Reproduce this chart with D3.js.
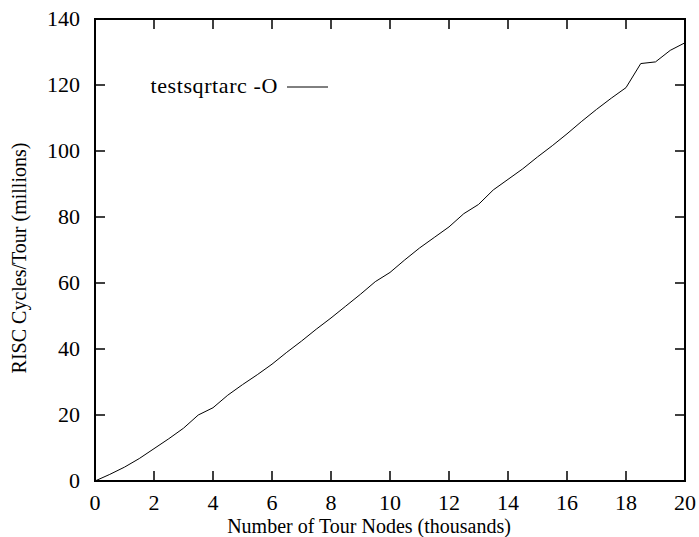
<!DOCTYPE html>
<html>
<head>
<meta charset="utf-8">
<script src="https://cdn.jsdelivr.net/npm/d3@7"></script>
<style>
  body { margin: 0; background: #fff; }
  text { font-family: "Liberation Serif", "Times New Roman", serif; fill: #000; }
</style>
</head>
<body>
<div id="chart"></div>
<script>
// tour nodes (thousands)
var nodes = [0, 0.5, 1, 1.5, 2, 2.5, 3, 3.5, 4, 4.5, 5, 5.5, 6, 6.5, 7, 7.5, 8, 8.5, 9, 9.5,
             10, 10.5, 11, 11.5, 12, 12.5, 13, 13.5, 14, 14.5, 15, 15.5, 16, 16.5, 17, 17.5, 18, 18.5, 19, 19.5, 20];
// RISC cycles per tour (millions)
var cycles = [0, 2, 4.2, 6.8, 9.8, 12.8, 16, 20, 22.2, 26, 29.2, 32.2, 35.4, 39, 42.4, 46, 49.4, 53, 56.6, 60.4,
              63.2, 67, 70.6, 73.8, 77, 81, 83.8, 88.2, 91.4, 94.6, 98.2, 101.6, 105.2, 109, 112.6, 116, 119.2, 126.5, 127, 130.5, 132.8];
var xTicks = [0, 2, 4, 6, 8, 10, 12, 14, 16, 18, 20];
var yTicks = [0, 20, 40, 60, 80, 100, 120, 140];
var seriesName = "testsqrtarc -O";

var width = 699, height = 537;
var margin = { top: 19, right: 14, bottom: 56, left: 95 };
var w = width - margin.left - margin.right;
var h = height - margin.top - margin.bottom;

var svg = d3.select("#chart").append("svg")
    .attr("width", width)
    .attr("height", height);

var g = svg.append("g")
    .attr("transform", "translate(" + margin.left + "," + margin.top + ")");

var x = d3.scaleLinear().domain([0, 20]).range([0, w]);
var y = d3.scaleLinear().domain([0, 140]).range([h, 0]);

// ticks, inward on all four sides
var tickLen = 10;
g.selectAll(".xt").data(xTicks).enter().append("line")
    .attr("x1", d => x(d)).attr("x2", d => x(d))
    .attr("y1", h).attr("y2", h - tickLen)
    .attr("stroke", "#000").attr("stroke-width", 1.5);
g.selectAll(".xt2").data(xTicks).enter().append("line")
    .attr("x1", d => x(d)).attr("x2", d => x(d))
    .attr("y1", 0).attr("y2", tickLen)
    .attr("stroke", "#000").attr("stroke-width", 1.5);
g.selectAll(".yt").data(yTicks).enter().append("line")
    .attr("x1", 0).attr("x2", tickLen)
    .attr("y1", d => y(d)).attr("y2", d => y(d))
    .attr("stroke", "#000").attr("stroke-width", 1.5);
g.selectAll(".yt2").data(yTicks).enter().append("line")
    .attr("x1", w).attr("x2", w - tickLen)
    .attr("y1", d => y(d)).attr("y2", d => y(d))
    .attr("stroke", "#000").attr("stroke-width", 1.5);

// frame
g.append("rect")
    .attr("width", w).attr("height", h)
    .attr("fill", "none").attr("stroke", "#000").attr("stroke-width", 2);

// tick labels
g.selectAll(".xl").data(xTicks).enter().append("text")
    .attr("x", d => x(d)).attr("y", h + 29)
    .attr("text-anchor", "middle")
    .style("font-size", "22px")
    .text(d => d);
g.selectAll(".yl").data(yTicks).enter().append("text")
    .attr("x", -15).attr("y", d => y(d) + 7)
    .attr("text-anchor", "end")
    .style("font-size", "22px")
    .text(d => d);

// axis titles
svg.append("text")
    .attr("x", 369).attr("y", 533)
    .attr("text-anchor", "middle")
    .style("font-size", "20px")
    .text("Number of Tour Nodes (thousands)");
svg.append("text")
    .attr("transform", "translate(26," + (margin.top + h / 2 + 8) + ") rotate(-90)")
    .attr("text-anchor", "middle")
    .style("font-size", "20px")
    .text("RISC Cycles/Tour (millions)");

// data line
var line = d3.line()
    .x((d, i) => x(nodes[i]))
    .y(d => y(d));
g.append("path")
    .datum(cycles)
    .attr("d", line)
    .attr("fill", "none")
    .attr("stroke", "#000")
    .attr("stroke-width", 1);

// legend
svg.append("text")
    .attr("x", 278).attr("y", 93)
    .attr("text-anchor", "end")
    .style("font-size", "22px")
    .style("letter-spacing", "0.6px")
    .text(seriesName);
svg.append("line")
    .attr("x1", 287).attr("x2", 328)
    .attr("y1", 87).attr("y2", 87)
    .attr("stroke", "#000").attr("stroke-width", 1);
</script>
</body>
</html>
